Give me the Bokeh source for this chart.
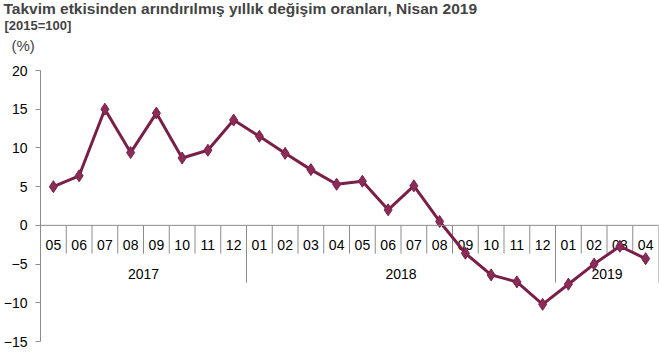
from bokeh.plotting import figure
from bokeh.models import Range1d, Span, SingleIntervalTicker, Title
from bokeh.core.properties import value
from bokeh.embed import file_html
from bokeh.resources import INLINE

title = "Takvim etkisinden arındırılmış yıllık değişim oranları, Nisan 2019"
subtitle = "[2015=100]"
unit = "(%)"

years = ["2017"] * 8 + ["2018"] * 12 + ["2019"] * 4
months = ["05", "06", "07", "08", "09", "10", "11", "12",
          "01", "02", "03", "04", "05", "06", "07", "08", "09", "10", "11", "12",
          "01", "02", "03", "04"]
values = [5.0, 6.4, 15.0, 9.4, 14.5, 8.7, 9.7, 13.6,
          11.5, 9.3, 7.2, 5.3, 5.7, 2.0, 5.1, 0.5, -3.6, -6.4, -7.3, -10.2,
          -7.6, -5.0, -2.7, -4.3]

FONT = "Liberation Sans"
LINE_COLOR = "#7a2048"
MARK_COLOR = "#8a2c58"
AXIS_COLOR = "#8c8c8c"
LEFT = 39

n = len(months)
p = figure(width=659, height=353, x_range=Range1d(0, n), y_range=Range1d(-15, 20),
           output_backend="svg", toolbar_location=None, x_axis_location=None,
           min_border_left=LEFT, min_border_right=1, min_border_top=0, min_border_bottom=12)
p.title = None
p.outline_line_color = None
p.xgrid.visible = False
p.ygrid.visible = False

ax = p.yaxis[0]
ax.ticker = SingleIntervalTicker(interval=5)
ax.major_tick_out = 5
ax.major_tick_in = 0
ax.minor_tick_line_color = None
ax.axis_line_color = AXIS_COLOR
ax.major_tick_line_color = AXIS_COLOR
ax.major_label_text_font = FONT
ax.major_label_text_font_size = "14px"
ax.major_label_text_color = "#000000"
ax.major_label_standoff = 8

# category axis drawn at zero
p.add_layout(Span(location=0, dimension="width", line_color=AXIS_COLOR, line_width=1))
sep_x, sep_y1 = [], []
for i in range(1, n + 1):
    sep_x.append(i)
    if i == n or years[i] != years[i - 1]:
        sep_y1.append(-7.4)
    else:
        sep_y1.append(-3.65)
p.segment(x0=sep_x, x1=sep_x, y0=[0] * len(sep_x), y1=sep_y1, line_color=AXIS_COLOR, line_width=1)

xc = [i + 0.5 for i in range(n)]
p.text(x=xc, y=[-2.6] * n, text=months, text_font=value(FONT), text_font_size="14px",
       text_align="center", text_baseline="middle", text_color="#000000")

groups = []
for i, y in enumerate(years):
    if not groups or groups[-1][0] != y:
        groups.append([y, i, i])
    else:
        groups[-1][2] = i
gx = [(g[1] + g[2] + 1) / 2 for g in groups]
p.text(x=gx, y=[-6.25] * len(groups), text=[g[0] for g in groups], text_font=value(FONT),
       text_font_size="14px", text_align="center", text_baseline="middle", text_color="#000000")

p.line(xc, values, line_color=LINE_COLOR, line_width=3)
p.scatter(xc, values, marker="diamond", size=12, fill_color=MARK_COLOR, line_color=LINE_COLOR, line_width=1)

# header texts stacked above the frame (first added sits nearest the frame)
p.add_layout(Title(text=" ", text_font=FONT, text_font_size="1px", standoff=9.9), "above")
p.add_layout(Title(text=unit, text_font=FONT, text_font_size="15px", text_font_style="normal",
                   vertical_align="top", align="left", offset=10 - LEFT, standoff=4.4), "above")
p.add_layout(Title(text=subtitle, text_font=FONT, text_font_size="13px", text_font_style="bold",
                   vertical_align="top", align="left", offset=3 - LEFT, standoff=0), "above")
p.add_layout(Title(text=title, text_font=FONT, text_font_size="15.5px", text_font_style="bold",
                   vertical_align="top", align="left", offset=2 - LEFT, standoff=-2), "above")

open("out.html", "w").write(file_html(p, INLINE))
